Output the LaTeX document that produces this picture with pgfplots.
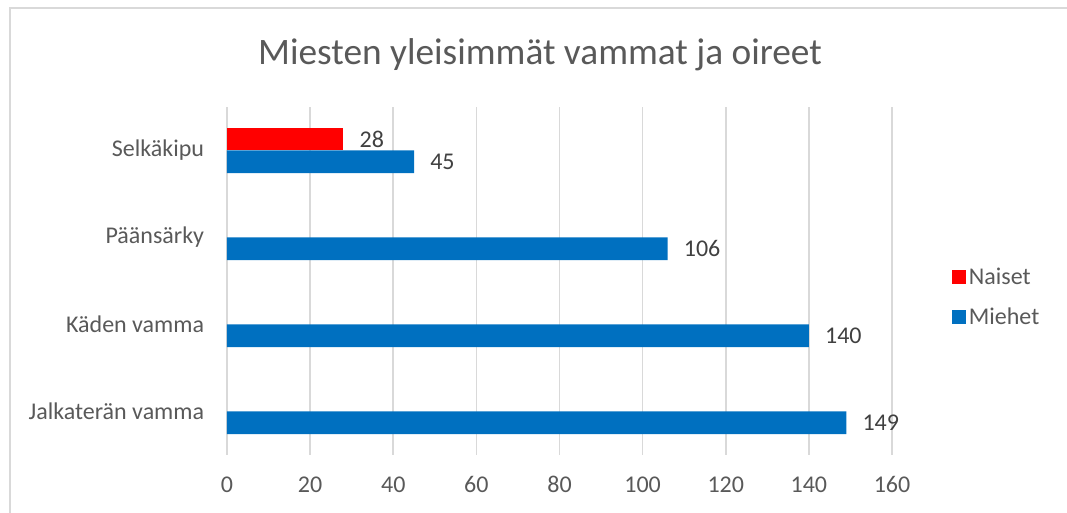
\documentclass[border=0pt]{standalone}
\usepackage{fontspec}
\setmainfont{Carlito}
\usepackage{pgfplots}
\pgfplotsset{compat=1.18}
\definecolor{txtgray}{HTML}{595959}
\definecolor{lblgray}{HTML}{404040}
\definecolor{gridgray}{HTML}{D9D9D9}
\definecolor{mblue}{HTML}{0070C0}
\definecolor{nred}{HTML}{FF0000}
\begin{document}
\begin{tikzpicture}
\useasboundingbox (-170.25pt,-43.5pt) rectangle (630pt,341.25pt);
\draw[gridgray, line width=1pt] (-162.75pt,-43.5pt) -- (-162.75pt,335.25pt) -- (630pt,335.25pt);
\node[anchor=base, text=txtgray, font=\fontsize{28pt}{33pt}\selectfont, inner sep=0pt] at (234.75pt,292.5pt) {Miesten yleisimmät vammat ja oireet};
\begin{axis}[
  at={(0pt,0pt)}, anchor=south west,
  scale only axis, width=498.75pt, height=261pt,
  xbar, bar width=17pt,
  xmin=0, xmax=160, ymin=-0.5, ymax=3.5,
  xtick={0,20,...,160},
  ytick={0,1,2,3},
  yticklabels={Jalkaterän vamma, Käden vamma, Päänsärky, Selkäkipu},
  axis line style={draw=none},
  major tick length=0pt,
  xmajorgrids, major grid style={draw=gridgray, line width=1.3pt},
  /pgf/number format/assume math mode=true,
  tick label style={font=\fontsize{18pt}{21pt}\selectfont, text=txtgray, inner sep=0pt},
  yticklabel style={anchor=east, xshift=-17pt},
  xticklabel style={anchor=base, yshift=-28.5pt},
  nodes near coords,
  nodes near coords style={anchor=west, inner sep=0pt, xshift=12pt, font=\fontsize{18pt}{21pt}\selectfont, text=lblgray},
  legend style={draw=none, fill=none, at={(1.0902,0.4526)}, anchor=west, inner sep=0pt,
    font=\fontsize{18pt}{21pt}\selectfont, text=txtgray, row sep=12pt,
    /tikz/every even column/.append style={column sep=4pt}},
  legend cell align=left,
  legend image code/.code={\fill[#1] (0pt,-5.25pt) rectangle (10.5pt,5.25pt);},
]
\addplot[fill=nred, draw=none, bar shift=8.5pt] coordinates {(28,3)};
\addplot[fill=mblue, draw=none, bar shift=-8.5pt] coordinates {(149,0) (140,1) (106,2) (45,3)};
\legend{Naiset, Miehet}
\end{axis}
\end{tikzpicture}
\end{document}
